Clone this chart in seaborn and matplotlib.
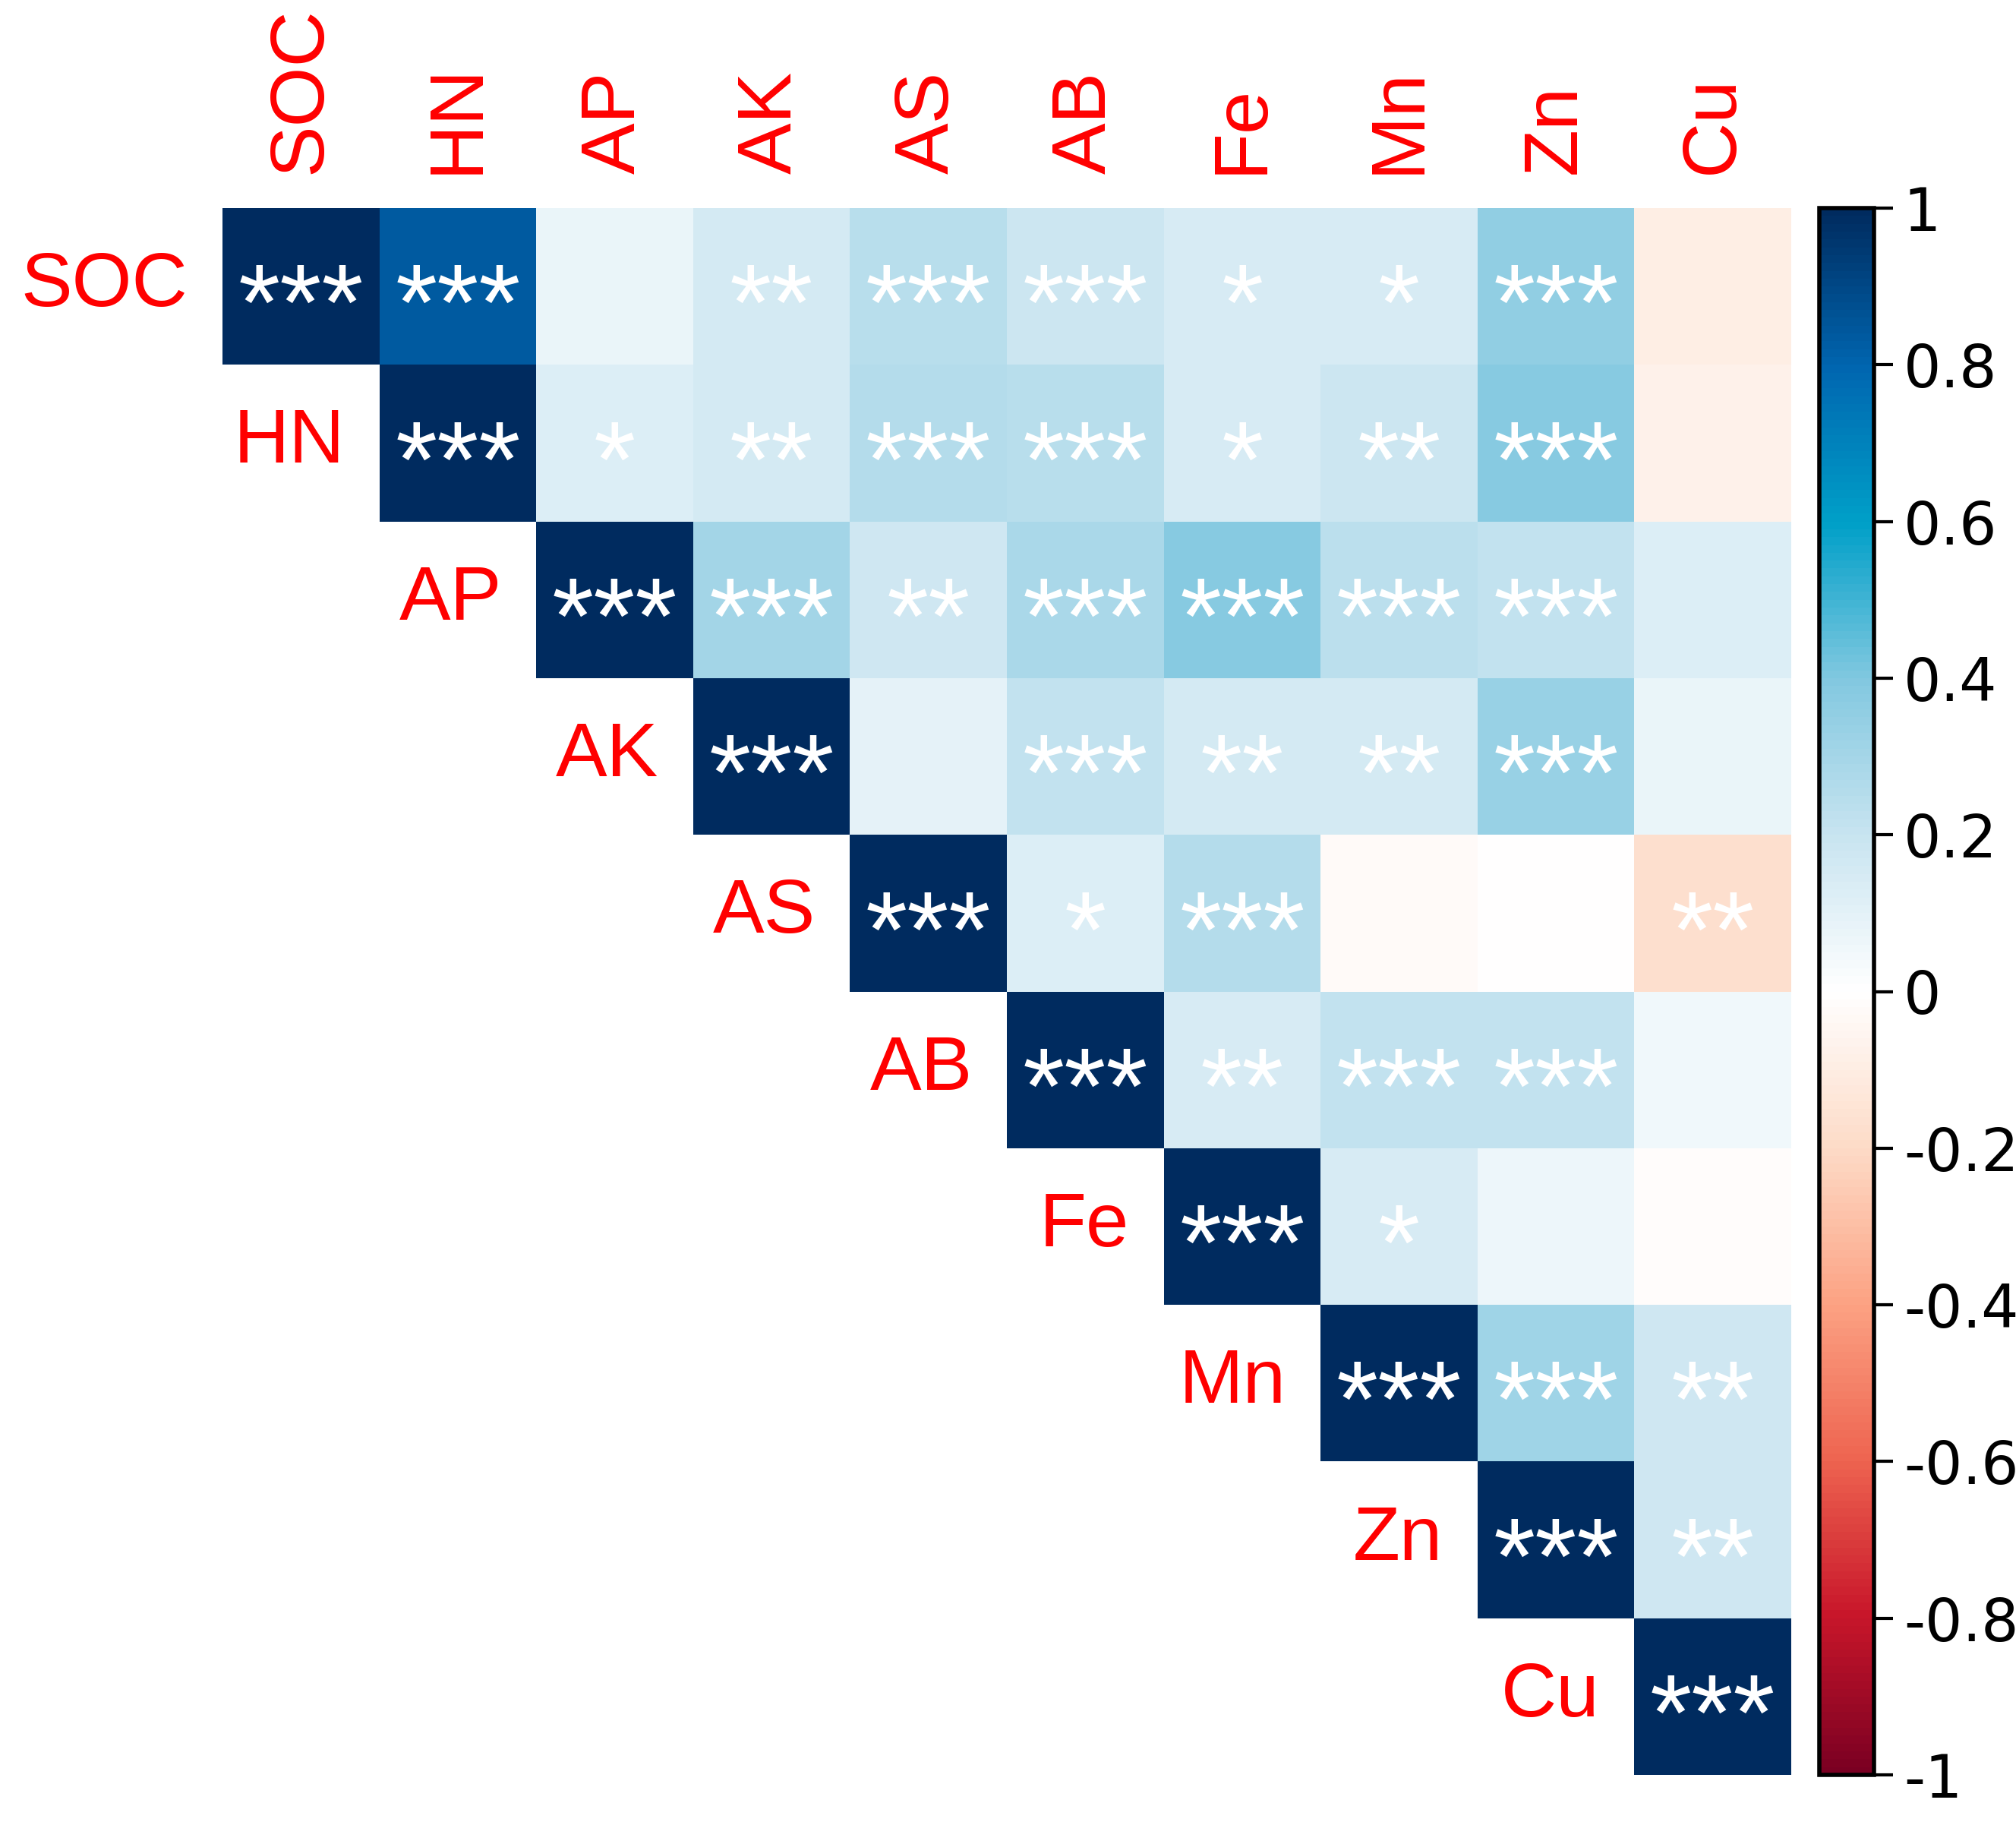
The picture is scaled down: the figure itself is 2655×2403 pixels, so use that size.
import numpy as np
import pandas as pd
import matplotlib
matplotlib.use('Agg')
import matplotlib.pyplot as plt
import seaborn as sns
from matplotlib.colors import LinearSegmentedColormap

# soil properties
labels = ['SOC', 'HN', 'AP', 'AK', 'AS', 'AB', 'Fe', 'Mn', 'Zn', 'Cu']

# upper triangle of the correlation matrix, row by row (diagonal first)
r_soc = [1.00, 0.83, 0.07, 0.16, 0.24, 0.18, 0.14, 0.14, 0.35, -0.10]
r_hn = [1.00, 0.12, 0.16, 0.25, 0.24, 0.14, 0.18, 0.38, -0.08]
r_ap = [1.00, 0.30, 0.17, 0.28, 0.38, 0.23, 0.21, 0.12]
r_ak = [1.00, 0.09, 0.21, 0.16, 0.16, 0.33, 0.07]
r_as = [1.00, 0.13, 0.25, -0.03, -0.01, -0.18]
r_ab = [1.00, 0.15, 0.21, 0.21, 0.05]
r_fe = [1.00, 0.15, 0.06, -0.02]
r_mn = [1.00, 0.31, 0.17]
r_zn = [1.00, 0.17]
r_cu = [1.00]

# significance stars, same layout
s_soc = ['***', '***', '', '**', '***', '***', '*', '*', '***', '']
s_hn = ['***', '*', '**', '***', '***', '*', '**', '***', '']
s_ap = ['***', '***', '**', '***', '***', '***', '***', '']
s_ak = ['***', '', '***', '**', '**', '***', '']
s_as = ['***', '*', '***', '', '', '**']
s_ab = ['***', '**', '***', '***', '']
s_fe = ['***', '*', '', '']
s_mn = ['***', '***', '**']
s_zn = ['***', '**']
s_cu = ['***']

rows = [r_soc, r_hn, r_ap, r_ak, r_as, r_ab, r_fe, r_mn, r_zn, r_cu]
stars = [s_soc, s_hn, s_ap, s_ak, s_as, s_ab, s_fe, s_mn, s_zn, s_cu]

n = len(labels)
mat = np.full((n, n), np.nan)
sig = np.full((n, n), '', dtype=object)
for i in range(n):
    mat[i, i:] = rows[i]
    sig[i, i:] = stars[i]
df = pd.DataFrame(mat, index=labels, columns=labels)
mask = np.tril(np.ones((n, n), dtype=bool), k=-1)

cols = ['#7a0022', '#c8162a', '#ee6450', '#fca283', '#fddbc7', '#ffffff',
        '#c8e4f0', '#82c8e0', '#00a0c8', '#0066b0', '#002b5f']
cmap = LinearSegmentedColormap.from_list('rdbu2', cols, N=200)

plt.rcParams['font.family'] = ['Liberation Sans', 'DejaVu Sans']

fig = plt.figure(figsize=(26.55, 24.03), dpi=100)
ax = fig.add_axes([293 / 2655, 1 - 2337 / 2403, 2066 / 2655, 2063 / 2403])
cax = fig.add_axes([2396 / 2655, 1 - 2337 / 2403, 72 / 2655, 2063 / 2403])

sns.heatmap(df, mask=mask, cmap=cmap, vmin=-1, vmax=1, ax=ax, cbar_ax=cax,
            square=False, linewidths=0, xticklabels=False, yticklabels=False)

for i in range(n):
    for j in range(i, n):
        if sig[i, j]:
            ax.text(j + 0.5, i + 0.66, sig[i, j], ha='center', va='center',
                    color='white', fontsize=102)

# column labels on top, row labels beside the diagonal
for j, lab in enumerate(labels):
    ax.text(j + 0.5, -0.22, lab, rotation=90, ha='center', va='bottom',
            color='red', fontsize=73, clip_on=False)
for i, lab in enumerate(labels):
    ax.text(i - 0.22, i + 0.5, lab, ha='right', va='center',
            color='red', fontsize=73, clip_on=False)

ax.set_xlabel('')
ax.set_ylabel('')
for sp in ax.spines.values():
    sp.set_visible(False)

cb = ax.collections[0].colorbar
cb.set_ticks(np.round(np.arange(-1, 1.01, 0.2), 1))
cb.set_ticklabels(['-1', '-0.8', '-0.6', '-0.4', '-0.2', '0', '0.2', '0.4', '0.6', '0.8', '1'])
cb.outline.set_visible(True)
cb.outline.set_edgecolor('black')
cb.outline.set_linewidth(4)
cax.tick_params(labelsize=56, length=18, width=3, pad=10, colors='black')
for t in cax.get_yticklabels():
    t.set_family('DejaVu Sans')

fig.savefig('out.png', dpi=100)
